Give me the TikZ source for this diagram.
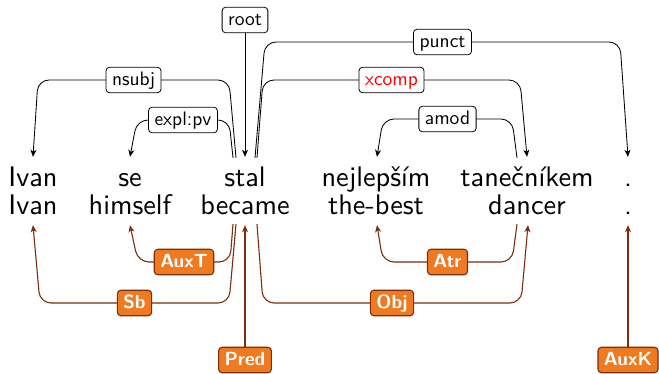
\documentclass[tikz,border=0pt]{standalone}
\usepackage{graphicx}
\usetikzlibrary{arrows.meta}
\definecolor{obrd}{RGB}{125,45,10}
\definecolor{ofill}{RGB}{240,122,32}
\newcommand{\wtxt}[1]{\scalebox{2.83}{\normalsize\sffamily #1}}
\newcommand{\ltxt}[1]{\scalebox{1.95}{\normalsize\sffamily #1}}
\newcommand{\btxt}[1]{\scalebox{1.9}{\normalsize\sffamily\bfseries #1}}
\begin{document}
\begin{tikzpicture}[x=1pt,y=-1pt,
 word/.style={inner sep=0pt, text height=20pt, text depth=6pt, anchor=base},
 dlab/.style={draw, rounded corners=3.5pt, fill=white, inner xsep=6pt, inner ysep=2pt, text height=16pt, text depth=5.5pt, line width=0.8pt},
 plab/.style={draw=obrd, fill=ofill, text=white, rounded corners=3.5pt, inner xsep=6pt, inner ysep=2pt, text height=16pt, text depth=5.5pt, line width=1.1pt},
 dep/.style={draw, line width=0.85pt, rounded corners=11pt, -{Stealth[length=7pt,width=6pt,inset=2pt]}},
 pdep/.style={dep, draw=obrd, line width=1.1pt}]
\useasboundingbox (0,0) rectangle (659,373);
% words
\node[word] (w1) at (33,186) {\wtxt{Ivan}};
\node[word] (w2) at (130,186) {\wtxt{se}};
\node[word] (w3) at (245,186) {\wtxt{stal}};
\node[word] (w4) at (376,186) {\wtxt{nejlepším}};
\node[word] (w5) at (527,186) {\wtxt{tanečníkem}};
\node[word] (w6) at (628,186) {\wtxt{.}};
\node[word] (g1) at (33,214) {\wtxt{Ivan}};
\node[word] (g2) at (130,214) {\wtxt{himself}};
\node[word] (g3) at (245,214) {\wtxt{became}};
\node[word] (g4) at (376,214) {\wtxt{the-best}};
\node[word] (g5) at (527,214) {\wtxt{dancer}};
\node[word] (g6) at (628,214) {\wtxt{.}};
% top anchors
\coordinate (a1) at ([yshift=9pt]w1.north);
\coordinate (a2) at ([yshift=9pt]w2.north);
\coordinate (a3) at ([yshift=9pt]w3.north);
\coordinate (a4) at ([xshift=1pt,yshift=9pt]w4.north);
\coordinate (a5) at ([yshift=9pt]w5.north);
\coordinate (a6) at ([yshift=9pt]w6.north);
\coordinate (s3n) at ([xshift=-9pt,yshift=8pt]w3.north);
\coordinate (s3e) at ([xshift=-12pt,yshift=8pt]w3.north);
\coordinate (s3p) at ([xshift=10pt,yshift=8pt]w3.north);
\coordinate (s3x) at ([xshift=12pt,yshift=8pt]w3.north);
\coordinate (s5a) at ([xshift=-10pt,yshift=8pt]w5.north);
% bottom anchors
\coordinate (c1) at ([yshift=-5pt]g1.south);
\coordinate (c2) at ([yshift=-5pt]g2.south);
\coordinate (c3) at ([yshift=-5pt]g3.south);
\coordinate (c4) at ([xshift=1pt,yshift=-5pt]g4.south);
\coordinate (c5) at ([xshift=1pt,yshift=-5pt]g5.south);
\coordinate (c6) at ([yshift=-5pt]g6.south);
\coordinate (b3t) at ([xshift=-12pt,yshift=-4pt]g3.south);
\coordinate (b3s) at ([xshift=-9pt,yshift=-4pt]g3.south);
\coordinate (b3o) at ([xshift=12pt,yshift=-4pt]g3.south);
\coordinate (b5a) at ([xshift=-10pt,yshift=-4pt]g5.south);
% top dependencies
\node[dlab] (Lroot) at (245,20) {\ltxt{root}};
\draw[dep] (Lroot) -- (a3);
\draw[dep] (s3n) -- (229,80) -- node[dlab] (Lnsubj) {\ltxt{nsubj}} (38,80) -- (a1);
\draw[dep] (s3e) -- (229,120) -- node[dlab] (Lexpl) {\ltxt{expl:pv}} (137,120) -- (a2);
\draw[dep] (s3p) -- (265,42) -- node[dlab] (Lpunct) {\ltxt{punct}} (620,42) -- (a6);
\draw[dep] (s3x) -- (263,80) -- node[dlab, text=red] (Lxcomp) {\ltxt{xcomp}} (520,80) -- (a5);
\draw[dep] (s5a) -- (512,119) -- node[dlab] (Lamod) {\ltxt{amod}} (383,119) -- (a4);
% bottom dependencies
\draw[pdep] (b3t) -- (230,262) -- node[plab] (LauxT) {\btxt{AuxT}} (138,262) -- (c2);
\draw[pdep] (b3s) -- (229,303) -- node[plab] (Lsb) {\btxt{Sb}} (40,303) -- (c1);
\draw[pdep] (b3o) -- (263,303) -- node[plab] (Lobj) {\btxt{Obj}} (521,303) -- (c5);
\draw[pdep] (b5a) -- (512,262) -- node[plab] (Latr) {\btxt{Atr}} (383,262) -- (c4);
\node[plab] (Lpred) at (245,360) {\btxt{Pred}};
\draw[pdep] (Lpred) -- (c3);
\node[plab] (Lauxk) at (628,360) {\btxt{AuxK}};
\draw[pdep] (Lauxk) -- (c6);
\end{tikzpicture}
\end{document}
